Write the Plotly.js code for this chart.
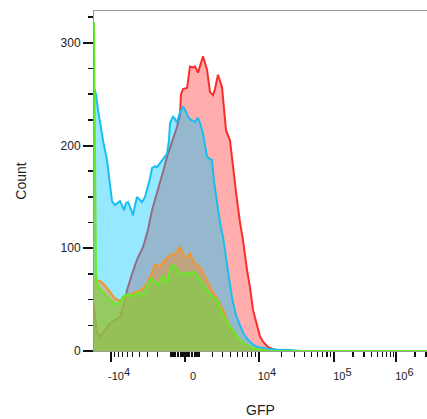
<!DOCTYPE html>
<html>
<head>
<meta charset="utf-8">
<script src="https://cdn.plot.ly/plotly-3.0.1.min.js"></script>
<style>html,body{margin:0;padding:0;background:#fff;}#chart{width:427px;height:419px;}</style>
</head>
<body>
<div id="chart"></div>
<script>
// Display channel (biexponential-scaled GFP axis) and counts per series
const redX = [0,1,3,6,11,16,21,26,30,33,38,43,49,54,58,62,66,70,73,76,79,83,86,87,89,93,96,99,101,104,109,113,116,119,121,124,128,130,132,136,139,142,146,149,153,156,159,163,166,169,174,178,186,333];
const redY = [45,32,18,14,20,27,30,33,45,59,75,89,101,118,137,150,164,178,189,198,208,218,230,250,255,256,277,276,277,271,287,274,252,249,255,269,257,235,215,205,178,155,125,108,79,62,40,25,14,9,4,2,0,0];

const cyanX = [0,2,4,6,9,13,16,18,21,24,26,28,30,32,34,37,39,41,43,46,48,51,53,56,58,61,63,66,68,71,73,75,76,79,81,83,85,87,89,92,94,97,101,104,106,109,111,113,116,118,120,122,124,126,129,132,134,137,139,142,146,150,154,158,163,168,176,186,196,206,333];
const cyanY = [256,250,235,222,205,186,160,146,142,144,146,142,137,144,145,138,132,142,150,147,145,150,157,168,178,180,179,183,186,190,192,205,222,228,226,222,230,234,238,233,228,225,223,227,222,212,200,189,187,186,165,150,137,125,111,90,76,58,47,35,25,16,11,7,4,3,2,1,1,0,0];

const orangeX = [0,3,6,11,16,21,26,30,33,36,39,43,46,50,53,56,58,61,64,66,69,71,74,76,79,81,84,86,88,89,91,93,95,96,98,99,101,103,105,108,111,113,116,119,123,126,130,133,136,139,143,148,152,156,162,169,176,333];
const orangeY = [70,69,68,64,57,51,49,51,53,55,56,58,59,62,66,72,76,84,83,82,87,89,91,93,94,95,99,101,98,94,92,91,94,95,90,88,86,84,81,79,72,68,62,57,51,46,38,30,24,19,14,9,6,4,2,1,0,0];

const greenX = [0,1,2,3,6,9,13,16,19,23,26,29,33,36,40,43,46,49,52,54,56,58,61,64,66,69,71,73,76,78,81,84,86,89,91,94,96,99,102,104,106,108,111,113,116,118,121,123,126,128,131,134,138,141,144,148,152,156,161,166,176,333];
const greenY = [320,150,75,64,60,57,53,50,47,45,48,53,55,55,53,56,57,54,60,66,69,71,67,64,68,74,70,66,78,84,82,78,74,76,77,74,76,77,75,72,69,66,62,59,56,53,51,50,42,37,32,27,22,18,13,9,6,4,2,1,0,0];

// Axis tick values (GFP units) and labels
const majorVals = [-1e4, 0, 1e4, 1e5, 1e6];
const sup = s => '<sup><span style="font-size:11px">' + s + '</span></sup>';
const majorText = ['-10' + sup('4'), '0', '10' + sup('4'), '10' + sup('5'), '10' + sup('6')];
const yTicks = [0, 100, 200, 300];

// biexponential-like display transform: GFP value -> display channel
function T(v) {
  const a = 32.9, w = 2137, c0 = 91;
  if (v <= 1e5) return c0 + a * Math.asinh(v / w);
  return T(1e5) + 62 * Math.log10(v / 1e5);
}
const minorGFP = [];
for (let k = 1; k <= 9; k++) { minorGFP.push(k * 100, -k * 100, k * 1000, -k * 1000); }
for (let k = 2; k <= 9; k++) { minorGFP.push(k * 1e4, k * 1e5); }
minorGFP.push(2e6, 3e6);

const font = 'Liberation Sans, Arial, sans-serif';
const traces = [
  {x: redX, y: redY, line: {color: 'rgb(250,45,45)', width: 2}, fillcolor: 'rgba(255,60,60,0.42)'},
  {x: cyanX, y: cyanY, line: {color: 'rgb(25,190,240)', width: 2}, fillcolor: 'rgba(0,200,255,0.41)'},
  {x: orangeX, y: orangeY, line: {color: 'rgb(240,150,50)', width: 2}, fillcolor: 'rgba(240,140,40,0.48)'},
  {x: greenX, y: greenY, line: {color: 'rgb(100,235,40)', width: 2}, fillcolor: 'rgba(120,210,60,0.6)'}
].map(t => Object.assign({type: 'scatter', mode: 'lines', fill: 'tozeroy', hoverinfo: 'skip'}, t));

const layout = {
  width: 427, height: 419,
  margin: {l: 94, r: 0, t: 11, b: 68},
  paper_bgcolor: '#fff', plot_bgcolor: '#fff',
  showlegend: false,
  xaxis: {
    range: [0, 333], tickmode: 'array',
    tickvals: majorVals.map(T), ticktext: majorText,
    ticks: 'outside', ticklen: 10, tickwidth: 2, tickcolor: '#111',
    ticklabelshift: 8, ticklabelstandoff: 5,
    minor: {tickmode: 'array', tickvals: minorGFP.map(T), ticks: 'outside', ticklen: 5, tickwidth: 1.2, tickcolor: '#111', showgrid: false},
    showline: true, linecolor: '#999', linewidth: 1, mirror: true,
    showgrid: false, zeroline: false, layer: 'below traces',
    tickfont: {family: font, size: 11, color: '#222'},
    title: {text: 'GFP', font: {family: font, size: 14, color: '#222'}, standoff: 23}
  },
  yaxis: {
    range: [0, 331], tickmode: 'array', tickvals: yTicks,
    ticks: 'outside', ticklen: 10, tickwidth: 2, tickcolor: '#111',
    minor: {dtick: 25, ticks: 'outside', ticklen: 5, tickwidth: 1.5, tickcolor: '#111', showgrid: false},
    showline: true, linecolor: '#999', linewidth: 1, mirror: true,
    showgrid: false, zeroline: false, layer: 'below traces',
    tickfont: {family: font, size: 12, color: '#222'},
    title: {text: 'Count', font: {family: font, size: 14, color: '#222'}, standoff: 30}
  }
};
Plotly.newPlot('chart', traces, layout, {staticPlot: true, displayModeBar: false});
</script>
</body>
</html>
